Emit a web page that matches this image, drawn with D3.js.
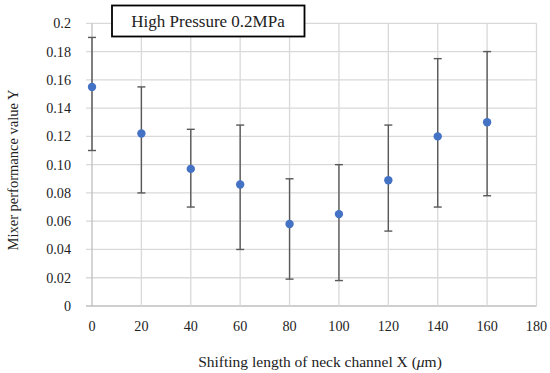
<!DOCTYPE html>
<html><head><meta charset="utf-8">
<script src="https://cdn.jsdelivr.net/npm/d3@7"></script>
<style>body{margin:0;background:#fff}svg{display:block}</style>
</head><body><svg id="c" width="550" height="373" font-family="'Liberation Serif', 'Times New Roman', Tinos, 'DejaVu Serif', serif" fill="#222"></svg>
<script>
const xValues = [0, 20, 40, 60, 80, 100, 120, 140, 160];
const yValues = [0.155, 0.122, 0.097, 0.086, 0.058, 0.065, 0.089, 0.120, 0.130];
const errTop = [0.190, 0.155, 0.125, 0.128, 0.090, 0.100, 0.128, 0.175, 0.180];
const errBottom = [0.110, 0.080, 0.070, 0.040, 0.019, 0.018, 0.053, 0.070, 0.078];
const xTicks = [0, 20, 40, 60, 80, 100, 120, 140, 160, 180];
const yTicks = [0, 0.02, 0.04, 0.06, 0.08, 0.10, 0.12, 0.14, 0.16, 0.18, 0.2];
const yTickLabels = ["0", "0.02", "0.04", "0.06", "0.08", "0.10", "0.12", "0.14", "0.16", "0.18", "0.2"];

const svg = d3.select("#c");
const x = d3.scaleLinear().domain([0, 180]).range([92, 536.5]);
const y = d3.scaleLinear().domain([0, 0.2]).range([306, 23.3]);

// grid
svg.append("g").selectAll("line").data(yTicks).join("line")
  .attr("x1", 86).attr("x2", x(180)).attr("y1", d => y(d)).attr("y2", d => y(d))
  .attr("stroke", d => d === 0 ? "#bfbfbf" : "#d9d9d9").attr("stroke-width", 1.3);
svg.append("g").selectAll("line").data(xTicks).join("line")
  .attr("x1", d => x(d)).attr("x2", d => x(d)).attr("y1", y(0.2)).attr("y2", y(0))
  .attr("stroke", d => d === 0 ? "#bfbfbf" : "#d9d9d9").attr("stroke-width", 1.3);

// y tick labels
svg.append("g").selectAll("text").data(yTicks).join("text")
  .attr("x", 71).attr("y", d => y(d)).attr("dy", "0.35em").attr("text-anchor", "end")
  .attr("font-size", 14.2).text((d, i) => yTickLabels[i]);
// x tick labels
svg.append("g").selectAll("text").data(xTicks).join("text")
  .attr("x", d => x(d)).attr("y", 326).attr("dy", "0.35em").attr("text-anchor", "middle")
  .attr("font-size", 14.2).text(d => d);

// error bars
const eb = svg.append("g").attr("stroke", "#595959").attr("stroke-width", 1.4);
xValues.forEach((xv, i) => {
  eb.append("line").attr("x1", x(xv)).attr("x2", x(xv)).attr("y1", y(errTop[i])).attr("y2", y(errBottom[i]));
  eb.append("line").attr("x1", x(xv) - 4).attr("x2", x(xv) + 4).attr("y1", y(errTop[i])).attr("y2", y(errTop[i]));
  eb.append("line").attr("x1", x(xv) - 4).attr("x2", x(xv) + 4).attr("y1", y(errBottom[i])).attr("y2", y(errBottom[i]));
});

// points
svg.append("g").selectAll("circle").data(xValues).join("circle")
  .attr("cx", d => x(d)).attr("cy", (d, i) => y(yValues[i])).attr("r", 4.2).attr("fill", "#4472c4");

// legend box
svg.append("rect").attr("x", 112).attr("y", 5.5).attr("width", 192.5).attr("height", 31)
  .attr("fill", "#fff").attr("stroke", "#000").attr("stroke-width", 1.8);
svg.append("text").attr("x", 208).attr("y", 21).attr("dy", "0.35em").attr("text-anchor", "middle")
  .attr("font-size", 17).text("High Pressure 0.2MPa");

// axis titles
svg.append("text").attr("x", 320).attr("y", 362).attr("dy", "0.35em").attr("text-anchor", "middle")
  .attr("font-size", 15.5).html('Shifting length of neck channel X (<tspan font-style="italic">μ</tspan>m)');
svg.append("text").attr("transform", "translate(13,170) rotate(-90)").attr("dy", "0.35em")
  .attr("text-anchor", "middle").attr("font-size", 14.5).text("Mixer performance value Y");
</script></body></html>
